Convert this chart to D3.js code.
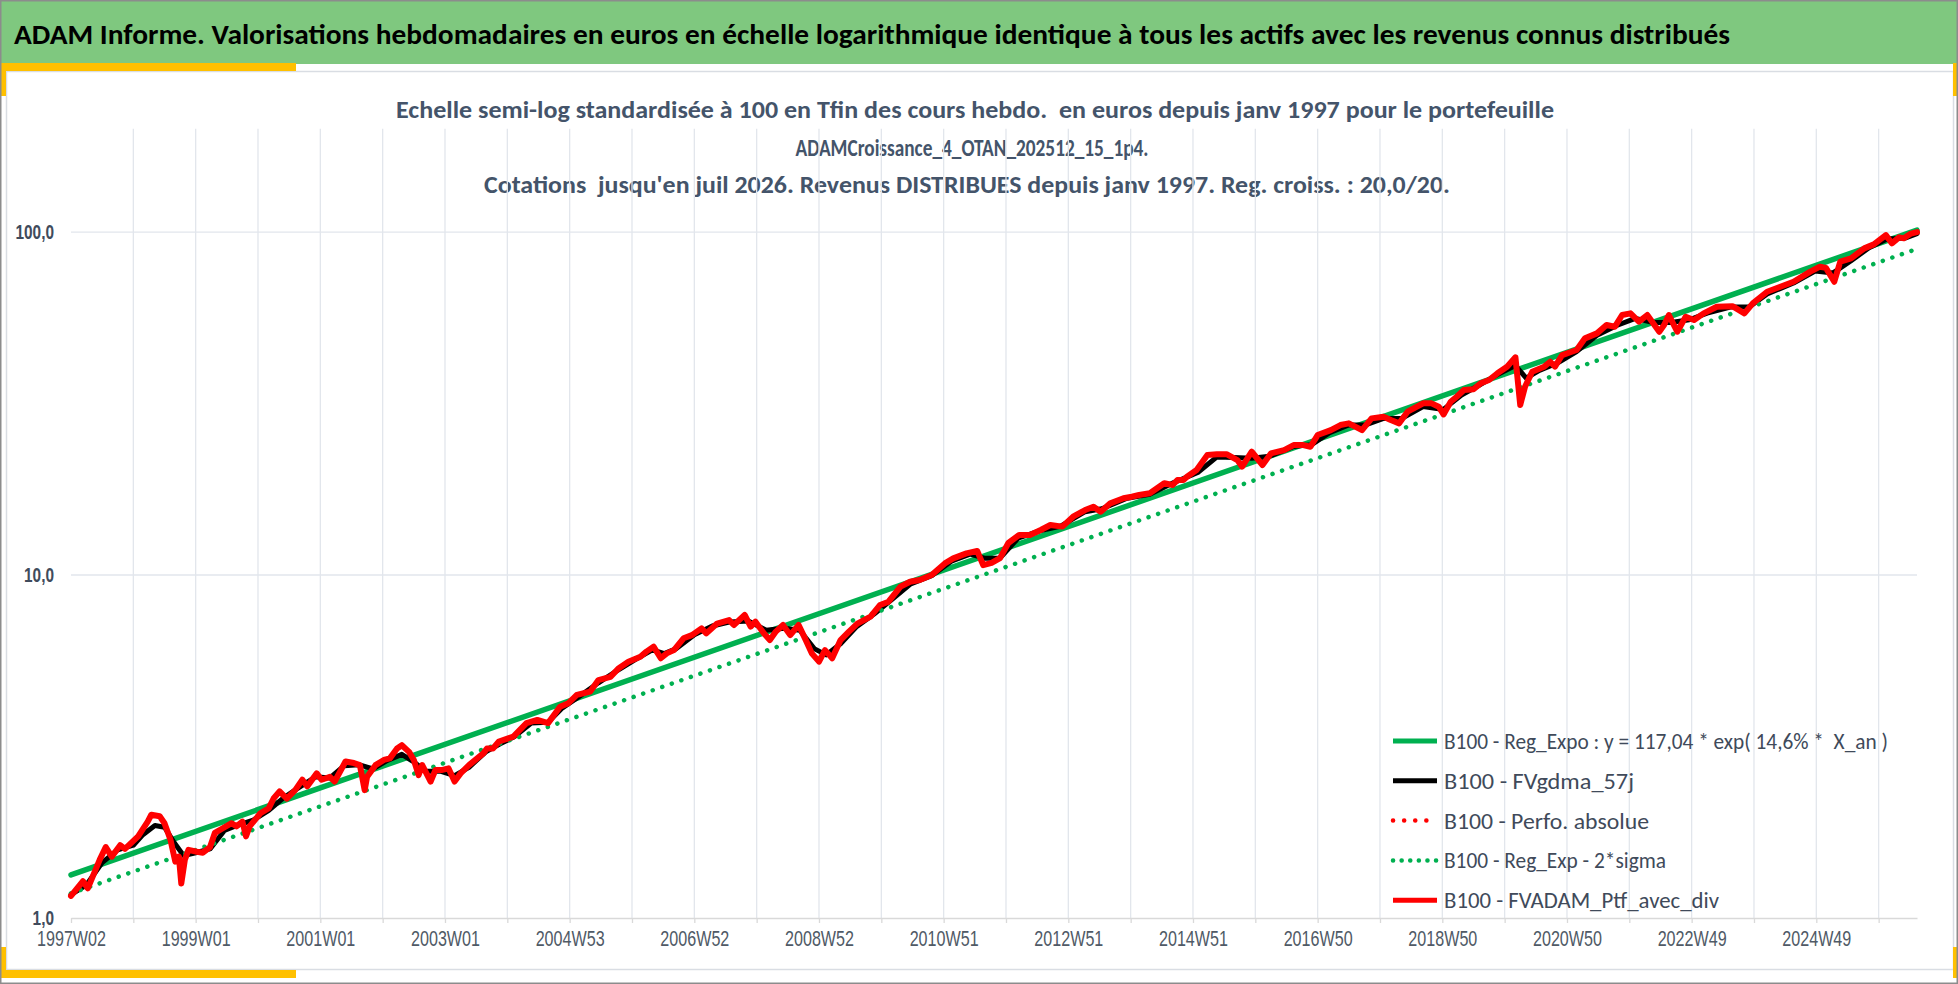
<!DOCTYPE html>
<html>
<head>
<meta charset="utf-8">
<script src="https://cdn.jsdelivr.net/npm/d3@7"></script>
<style>
  body { margin: 0; background: #fff; }
  svg { display: block; font-family: Carlito, "Open Sans", "Liberation Sans", sans-serif; }
  text { white-space: pre; }
</style>
</head>
<body>
<div id="chart"></div>
<script>
var W = 1958, H = 984;

// categories : weekly ISO labels from 1997W02 to juil 2026
var nWeeks = 1541;
var firstMonday = new Date(Date.UTC(1997, 0, 6));
var weekFmt = d3.utcFormat("%GW%V");
var weeks = d3.range(nWeeks).map(function(i) { return weekFmt(d3.utcMonday.offset(firstMonday, i)); });

var titleText = "ADAM Informe. Valorisations hebdomadaires en euros en échelle logarithmique identique à tous les actifs avec les revenus connus distribués";
var subLines = [
  "Echelle semi-log standardisée à 100 en Tfin des cours hebdo.  en euros depuis janv 1997 pour le portefeuille",
  "ADAMCroissance_4_OTAN_202512_15_1p4.",
  "Cotations  jusqu'en juil 2026. Revenus DISTRIBUES depuis janv 1997. Reg. croiss. : 20,0/20."
];
var yTicks = [1, 10, 100];

// B100 - FVADAM_Ptf_avec_div (week index, value)
var ptfIdx = [0,10,14,24,29,34,41,45,56,64,67,74,78,83,87,90,92,95,98,105,110,116,120,127,134,138,143,146,149,158,165,169,174,180,187,193,197,205,209,216,220,229,236,241,245,247,254,261,266,272,276,282,286,290,293,300,304,309,315,320,325,332,344,347,352,357,369,380,389,398,408,415,422,433,440,450,457,465,475,480,486,492,497,503,511,518,526,530,539,549,553,562,567,571,578,583,588,594,600,607,613,618,624,629,635,642,649,656,667,675,682,692,700,708,718,729,736,747,756,761,768,775,782,791,800,809,817,827,836,846,853,859,867,878,885,891,900,912,919,923,928,931,939,948,956,964,973,977,985,994,1001,1012,1020,1028,1034,1040,1051,1059,1066,1077,1085,1095,1101,1108,1115,1128,1135,1141,1145,1151,1156,1162,1170,1176,1183,1190,1198,1205,1209,1213,1219,1229,1234,1238,1244,1256,1263,1273,1281,1288,1294,1301,1308,1315,1325,1329,1333,1340,1347,1354,1362,1373,1386,1396,1403,1415,1426,1437,1451,1459,1464,1471,1476,1485,1496,1504,1514,1519,1525,1529,1535,1540];
var ptfVal = [1.16,1.28,1.22,1.48,1.61,1.51,1.63,1.59,1.73,1.91,2.00,1.98,1.89,1.69,1.46,1.51,1.26,1.48,1.58,1.56,1.55,1.61,1.77,1.83,1.89,1.85,1.91,1.73,1.85,2.02,2.09,2.23,2.34,2.23,2.36,2.53,2.42,2.64,2.53,2.58,2.50,2.86,2.83,2.79,2.36,2.58,2.79,2.89,2.92,3.12,3.19,3.05,2.89,2.61,2.79,2.50,2.70,2.70,2.73,2.50,2.64,2.79,3.02,3.12,3.12,3.27,3.38,3.70,3.78,3.70,4.13,4.23,4.47,4.57,4.94,5.05,5.35,5.59,5.78,5.98,6.18,5.72,5.91,6.04,6.54,6.68,6.99,6.76,7.22,7.39,7.15,7.65,7.07,7.31,6.76,6.46,6.84,7.15,6.68,7.15,6.46,5.91,5.59,6.04,5.72,6.46,6.84,7.22,7.56,8.18,8.36,9.25,9.56,9.67,10.0,10.81,11.18,11.56,11.75,10.69,10.85,11.2,12.4,13.08,13.08,13.53,13.99,13.84,14.79,15.47,15.82,15.30,16.18,16.74,16.92,17.11,17.31,18.51,18.30,18.92,18.92,19.34,20.23,22.38,22.50,22.50,21.64,20.70,22.88,20.93,22.62,23.14,23.93,23.93,23.66,25.59,26.46,27.37,27.68,26.46,28.62,28.94,28.31,27.68,29.93,31.66,31.66,30.96,29.40,32.0,33.1,34.63,34.8,36.22,37.03,38.73,40.5,43.12,31.3,35.4,39.16,40.5,41.87,40.5,43.79,45.29,48.98,50.65,53.57,52.97,57.28,57.94,54.77,57.28,51.21,53.57,57.28,51.21,56.63,55.38,57.94,60.57,60.8,57.94,61.94,66.99,69.27,71.64,76.64,79.25,78.6,71.64,81.94,83.83,89.62,92.05,98.0,92.7,96.5,95.9,99.0,100.0];

// B100 - FVgdma_57j
var gdmaIdx = [0,13,26,39,52,60,70,78,86,94,104,116,128,140,152,165,178,190,204,216,228,240,252,264,276,286,296,308,320,332,346,358,370,384,398,410,425,440,455,470,485,495,505,520,535,550,565,580,595,608,620,630,642,655,670,685,700,718,735,750,762,775,790,808,826,846,860,880,900,920,940,956,970,985,1000,1020,1035,1050,1066,1080,1095,1110,1128,1145,1160,1175,1190,1205,1214,1225,1240,1256,1273,1290,1305,1320,1335,1350,1365,1385,1400,1415,1437,1455,1470,1485,1500,1515,1530,1540];
var gdmaVal = [1.17,1.25,1.45,1.58,1.63,1.75,1.86,1.84,1.66,1.52,1.55,1.59,1.80,1.87,1.93,2.06,2.25,2.40,2.58,2.56,2.78,2.80,2.72,2.88,3.00,2.85,2.68,2.68,2.60,2.75,3.05,3.22,3.38,3.70,3.72,4.10,4.45,4.85,5.25,5.65,6.05,5.90,6.10,6.70,7.10,7.30,7.35,6.90,7.00,6.90,6.10,5.85,6.30,7.05,7.70,8.50,9.40,9.95,11.00,11.50,11.20,11.20,12.80,13.45,13.90,15.30,15.60,16.70,17.20,18.60,19.90,22.10,22.00,21.90,22.20,23.70,24.00,26.00,27.40,27.40,28.60,28.60,31.00,30.40,33.50,35.80,38.40,40.80,37.50,39.50,41.50,44.80,50.00,53.50,56.00,54.50,54.50,55.50,58.00,60.50,60.50,66.00,71.00,77.00,76.00,82.50,90.00,95.50,96.00,99.00];

// B100 - Reg_Expo and B100 - Reg_Exp - 2*sigma (end points)
var regIdx = [0, 1540];
var regVal = [1.335, 101.3];
var sigIdx = [0, 1540];
var sigVal = [1.18, 89.3];

var legendNames = [
  "B100 - Reg_Expo : y = 117,04 * exp( 14,6% *  X_an )",
  "B100 - FVgdma_57j",
  "B100 - Perfo. absolue",
  "B100 - Reg_Exp - 2*sigma",
  "B100 - FVADAM_Ptf_avec_div"
];

var svg = d3.select("#chart").append("svg")
  .attr("width", W)
  .attr("height", H);

svg.append("rect").attr("width", W).attr("height", H).attr("fill", "#fff");

// banner
svg.append("rect").attr("x", 0).attr("y", 0).attr("width", W).attr("height", 64).attr("fill", "#7fc87f");
var title = svg.append("text")
  .attr("x", 14).attr("y", 44)
  .attr("font-size", 29).attr("font-weight", "bold").attr("fill", "#000")
  .text(titleText);
title.attr("textLength", 1716).attr("lengthAdjust", "spacingAndGlyphs");

// inner frame
svg.append("rect")
  .attr("x", 6.5).attr("y", 71.5).attr("width", 1947).attr("height", 898)
  .attr("fill", "none").attr("stroke", "#d9dde3").attr("stroke-width", 1.5);

// yellow corners
var gold = "#ffc000";
svg.append("rect").attr("x", 0).attr("y", 63).attr("width", 296).attr("height", 8).attr("fill", gold);
svg.append("rect").attr("x", 0).attr("y", 63).attr("width", 6).attr("height", 33).attr("fill", gold);
svg.append("rect").attr("x", 1953).attr("y", 63).attr("width", 5).attr("height", 33).attr("fill", gold);
svg.append("rect").attr("x", 0).attr("y", 970).attr("width", 296).attr("height", 8).attr("fill", gold);
svg.append("rect").attr("x", 0).attr("y", 947).attr("width", 6).attr("height", 31).attr("fill", gold);
svg.append("rect").attr("x", 1953).attr("y", 947).attr("width", 5).attr("height", 31).attr("fill", gold);

// outer border
svg.append("rect")
  .attr("x", 0.75).attr("y", 0.75).attr("width", W - 1.5).attr("height", H - 1.5)
  .attr("fill", "none").attr("stroke", "#8c8c8c").attr("stroke-width", 1.5);

// subtitle
var subCenters = [975, 972, 967];
var subWidths = [1158, 353, 966];
svg.append("g").selectAll("text")
  .data(subLines)
  .join("text")
  .attr("x", function(d, i) { return subCenters[i]; })
  .attr("y", function(d, i) { return 118 + i * 37.5; })
  .attr("text-anchor", "middle")
  .attr("font-size", function(d, i) { return i === 1 ? 25 : 23.5; })
  .attr("font-weight", "bold").attr("fill", "#44546a")
  .attr("textLength", function(d, i) { return subWidths[i]; })
  .attr("lengthAdjust", "spacingAndGlyphs")
  .text(function(d) { return d; });

// scales
var x = d3.scaleLinear().domain([0, nWeeks - 1]).range([71, 1917]);
var y = d3.scaleLog().domain([1, 200]).range([918, 128.8]);

// grid
var grid = svg.append("g");
grid.selectAll("line.v")
  .data(d3.range(52, nWeeks, 52))
  .join("line")
  .attr("class", "v")
  .attr("x1", function(d) { return x(d); }).attr("x2", function(d) { return x(d); })
  .attr("y1", y(200)).attr("y2", y(1))
  .attr("stroke", "#e2e6ec").attr("stroke-width", 1.3);
grid.selectAll("line.h")
  .data([10, 100])
  .join("line")
  .attr("class", "h")
  .attr("x1", x(0)).attr("x2", x(nWeeks - 1))
  .attr("y1", function(d) { return y(d); }).attr("y2", function(d) { return y(d); })
  .attr("stroke", "#e2e6ec").attr("stroke-width", 1.3);

// x axis
var xAxis = svg.append("g")
  .attr("transform", "translate(0," + y(1) + ")")
  .call(d3.axisBottom(x)
    .tickValues(d3.range(0, nWeeks, 52))
    .tickSize(5)
    .tickSizeOuter(0)
    .tickFormat(function(i) { return i % 104 === 0 ? weeks[i] : ""; }));
xAxis.select(".domain").attr("stroke", "#d9d9d9").attr("stroke-width", 1.5);
xAxis.selectAll(".tick line").attr("stroke", "#d9d9d9").attr("stroke-width", 1.3);
xAxis.selectAll(".tick text")
  .attr("y", 28).attr("dy", null)
  .attr("font-family", null)
  .attr("font-size", 22).attr("fill", "#505a66");

// y axis
var yAxis = svg.append("g")
  .attr("transform", "translate(" + x(0) + ",0)")
  .call(d3.axisLeft(y)
    .tickValues(yTicks)
    .tickSize(0)
    .tickPadding(17)
    .tickFormat(function(d) { return d3.format(".1f")(d).replace(".", ","); }));
yAxis.select(".domain").remove();
yAxis.selectAll(".tick text")
  .attr("dy", "0.33em")
  .attr("font-family", null)
  .attr("font-size", 21).attr("font-weight", "bold").attr("fill", "#404b5c");

// squeeze axis labels like the narrow original font
var sample = xAxis.selectAll(".tick text").filter(function(d) { return d === 0; }).node();
var kx = 69 / sample.getComputedTextLength();
svg.selectAll(".tick text").each(function() {
  var w = this.getComputedTextLength();
  if (w > 0) d3.select(this).attr("textLength", w * kx).attr("lengthAdjust", "spacingAndGlyphs");
});

// series
function pts(idx, val) { return idx.map(function(d, i) { return [d, val[i]]; }); }
var line = d3.line()
  .x(function(d) { return x(d[0]); })
  .y(function(d) { return y(d[1]); });

var series = [
  { data: pts(regIdx, regVal), color: "#00b050", width: 5.5, dash: null },
  { data: pts(gdmaIdx, gdmaVal), color: "#000", width: 5, dash: null },
  { data: pts(ptfIdx, ptfVal), color: "#ff0000", width: 4.5, dash: "0.1 11" },
  { data: pts(sigIdx, sigVal), color: "#00b050", width: 4.5, dash: "0.1 10" },
  { data: pts(ptfIdx, ptfVal), color: "#ff0000", width: 6, dash: null }
];

svg.append("g").selectAll("path")
  .data(series)
  .join("path")
  .attr("d", function(d) { return line(d.data); })
  .attr("fill", "none")
  .attr("stroke", function(d) { return d.color; })
  .attr("stroke-width", function(d) { return d.width; })
  .attr("stroke-dasharray", function(d) { return d.dash; })
  .attr("stroke-linecap", "round")
  .attr("stroke-linejoin", "round");

// legend
var legWidths = [444, 190, 205, 222, 275];
var legend = svg.append("g").selectAll("g")
  .data(series)
  .join("g")
  .attr("transform", function(d, i) { return "translate(1391," + (741 + i * 39.8) + ")"; });
legend.append("line")
  .attr("x1", 2).attr("x2", 46)
  .attr("stroke", function(d) { return d.color; })
  .attr("stroke-width", function(d) { return d.dash ? 4.5 : 5; })
  .attr("stroke-dasharray", function(d, i) { return d.dash ? (i === 2 ? "0.1 11" : "0.1 8.5") : null; })
  .attr("stroke-linecap", function(d) { return d.dash ? "round" : "butt"; });
legend.append("text")
  .attr("x", 53).attr("y", 8)
  .attr("font-size", 23).attr("fill", "#404a5a")
  .attr("textLength", function(d, i) { return legWidths[i]; })
  .attr("lengthAdjust", "spacingAndGlyphs")
  .text(function(d, i) { return legendNames[i]; });
</script>
</body>
</html>
